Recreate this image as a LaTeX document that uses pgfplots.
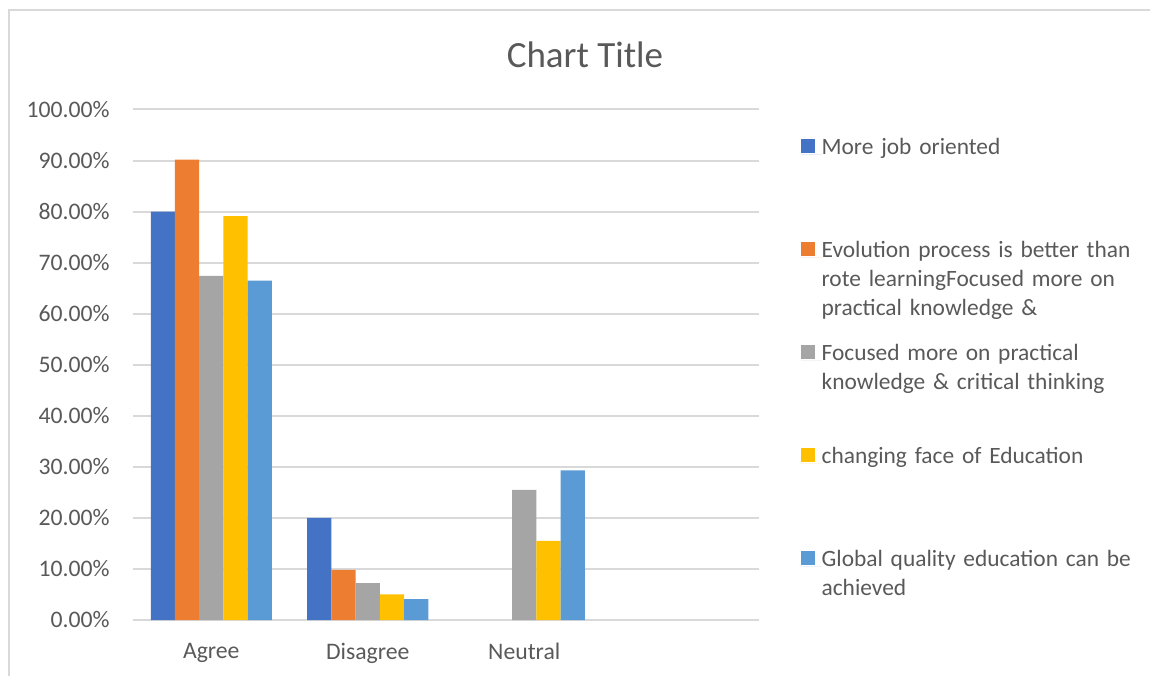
\documentclass[border=0pt]{standalone}
\usepackage{fontspec}
\setmainfont{Carlito}
\usepackage{pgfplots}
\pgfplotsset{compat=1.18}
\definecolor{c1}{HTML}{4472C4}
\definecolor{c2}{HTML}{ED7D31}
\definecolor{c3}{HTML}{A5A5A5}
\definecolor{c4}{HTML}{FFC000}
\definecolor{c5}{HTML}{5B9BD5}
\definecolor{txt}{HTML}{595959}
\definecolor{gridc}{HTML}{D9D9D9}
\begin{document}
\begin{tikzpicture}[x=1pt,y=1pt]
\path[use as bounding box] (0,0) rectangle (575,337.5);
\draw[gridc, line width=0.8pt] (4.5,-5) -- (4.5,332.5) -- (580,332.5);
\begin{axis}[
  at={(66.5pt,27.5pt)}, anchor=south west,
  scale only axis, width=313pt, height=255.25pt,
  xmin=-0.5, xmax=3.5, ymin=0, ymax=100,
  ybar=0pt, bar width=12.1pt,
  xtick={0,1,2}, xticklabels={Agree,Disagree,Neutral},
  ytick={0,10,...,100},
  yticklabel={\pgfmathprintnumber[fixed,fixed zerofill,precision=2]{\tick}\%},
  /pgf/number format/assume math mode=true,
  ymajorgrids, grid style={gridc, line width=1pt},
  axis line style={draw=none},
  major tick length=0pt, tick style={draw=none},
  ticklabel style={font=\fontsize{11.85}{14.65}\selectfont, text=txt, inner sep=0pt},
  yticklabel style={anchor=east, xshift=-11.5pt},
  xticklabel style={anchor=north, yshift=-11.5pt},
  title={Chart Title},
  title style={at={(axis description cs:0.722,1.0835)}, anchor=center, font=\fontsize{18.5}{22}\selectfont, text=txt, inner sep=0pt},
  legend style={at={(axis description cs:1.067,0.952)}, anchor=north west, draw=none, fill=none, inner sep=0pt, outer sep=0pt, row sep=0pt,
    font=\fontsize{11.7}{14.65}\selectfont, text=txt,
    cells={anchor=base west},
    nodes={inner sep=0pt, text height=10pt, text depth=41.5pt, align=left, text width=170pt}},
  sq/.style={draw=none, fill=#1, legend image code/.code={\fill[#1] (0pt,0.5pt) rectangle (7pt,7.5pt); \path (0pt,0pt) -- (10.35pt,0pt);}},
]
\addplot[sq=c1] coordinates {(0,80.0) (1,20.0)};
\addplot[sq=c2] coordinates {(0,90.2) (1,9.8)};
\addplot[sq=c3] coordinates {(0,67.4) (1,7.2) (2,25.5)};
\addplot[sq=c4] coordinates {(0,79.1) (1,5.0) (2,15.5)};
\addplot[sq=c5] coordinates {(0,66.5) (1,4.1) (2,29.3)};
\legend{More job oriented,
  {Evolution process is better than\\rote learningFocused more on\\practical knowledge \&},
  {Focused more on practical\\knowledge \& critical thinking},
  changing face of Education,
  {Global quality education can be\\achieved}}
\end{axis}
\end{tikzpicture}
\end{document}
